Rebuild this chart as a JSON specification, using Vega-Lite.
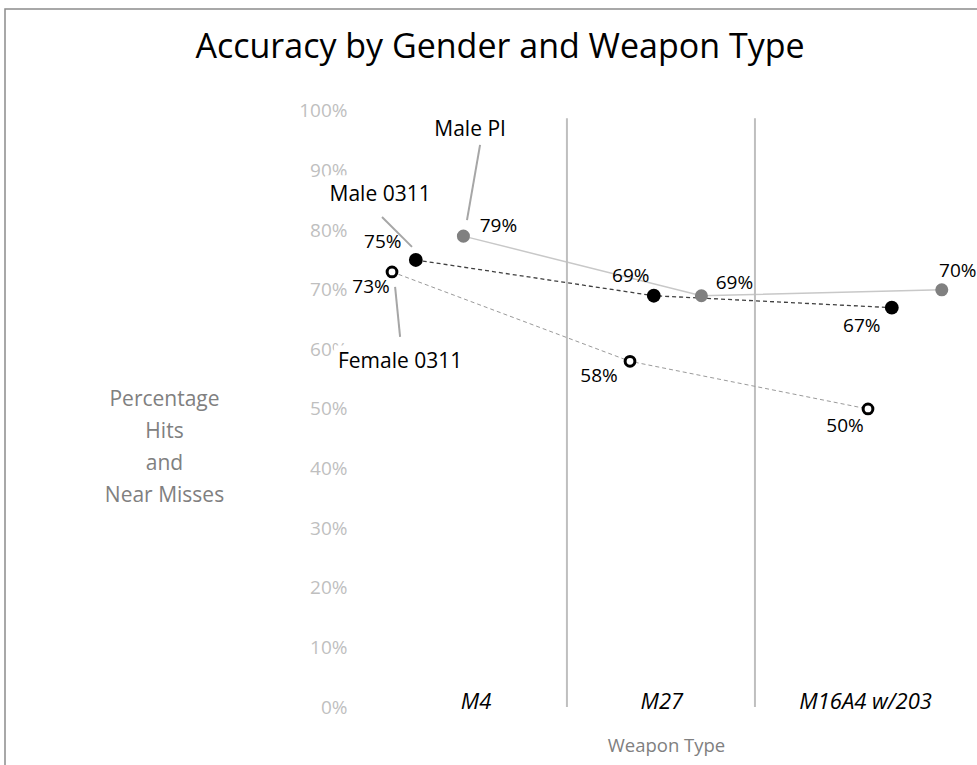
{
  "$schema": "https://vega.github.io/schema/vega-lite/v6.json",
  "width": 980,
  "height": 761,
  "autosize": {"type": "none"},
  "padding": {"left": 5, "top": 9, "right": 0, "bottom": 0},
  "background": "white",
  "config": {
    "view": {"stroke": "#8C8C8C", "strokeWidth": 1.5},
    "font": "Open Sans",
    "text": {"font": "Open Sans"}
  },
  "title": {
    "text": "Accuracy by Gender and Weapon Type",
    "font": "Open Sans",
    "fontSize": 34,
    "fontWeight": "normal",
    "color": "#000000",
    "anchor": "middle",
    "frame": "group",
    "baseline": "middle",
    "offset": -38,
    "dy": 35,
    "dx": 5
  },
  "datasets": {
    "points": [
      {"series": "Female 0311", "weapon": "M4", "x": 1.0, "y": 0.73},
      {"series": "Female 0311", "weapon": "M27", "x": 2.0, "y": 0.58},
      {"series": "Female 0311", "weapon": "M16A4 w/203", "x": 3.0, "y": 0.50},
      {"series": "Male 0311", "weapon": "M4", "x": 1.1, "y": 0.75},
      {"series": "Male 0311", "weapon": "M27", "x": 2.1, "y": 0.69},
      {"series": "Male 0311", "weapon": "M16A4 w/203", "x": 3.1, "y": 0.67},
      {"series": "Male PI", "weapon": "M4", "x": 1.3, "y": 0.79},
      {"series": "Male PI", "weapon": "M27", "x": 2.3, "y": 0.69},
      {"series": "Male PI", "weapon": "M16A4 w/203", "x": 3.31, "y": 0.70}
    ],
    "separators": [{"x": 1.735}, {"x": 2.525}],
    "weapons": [
      {"weapon": "M4", "x": 1.353},
      {"weapon": "M27", "x": 2.134},
      {"weapon": "M16A4 w/203", "x": 2.99}
    ],
    "seriesLabels": [
      {"label": "Male PI", "x": 1.328, "y": 0.968},
      {"label": "Male 0311", "x": 0.95, "y": 0.859},
      {"label": "Female 0311", "x": 1.034, "y": 0.579}
    ],
    "leaders": [
      {"label": "Male PI", "x": 1.37, "y": 0.943, "x2": 1.315, "y2": 0.817},
      {"label": "Male 0311", "x": 0.958, "y": 0.822, "x2": 1.084, "y2": 0.772},
      {"label": "Female 0311", "x": 1.013, "y": 0.705, "x2": 1.034, "y2": 0.621}
    ]
  },
  "encoding": {
    "x": {
      "field": "x",
      "type": "quantitative",
      "scale": {"domain": [-0.6261, 3.4916], "nice": false, "zero": false},
      "axis": {
        "title": "Weapon Type",
        "labels": false,
        "ticks": false,
        "domain": false,
        "grid": false,
        "offset": -25,
        "titleX": 661,
        "titleY": 0,
        "titleBaseline": "middle",
        "titleAlign": "center",
        "titleColor": "#808080",
        "titleFont": "Open Sans",
        "titleFontSize": 18.5,
        "titleFontWeight": "normal"
      }
    }
  },
  "layer": [
    {
      "data": {"name": "points"},
      "transform": [{"filter": "datum.series === 'Male PI'"}],
      "mark": {"type": "line", "color": "#C8C8C8", "strokeWidth": 1.5},
      "encoding": {
        "y": {
          "field": "y",
          "type": "quantitative",
          "scale": {"domain": [-0.1057, 1.1711], "nice": false, "zero": false},
          "axis": {
            "values": [0, 0.1, 0.2, 0.3, 0.4, 0.5, 0.6, 0.7, 0.8, 0.9, 1.0],
            "format": ".0%",
            "ticks": false,
            "domain": false,
            "grid": false,
            "offset": -344,
            "labelPadding": 2,
            "labelColor": "#BFBFBF",
            "labelFont": "Open Sans",
            "labelFontSize": 19,
            "title": ["Percentage", "Hits", "and", "Near Misses"],
            "titleAngle": 0,
            "titleAlign": "center",
            "titleBaseline": "middle",
            "titleLineHeight": 32,
            "titleX": -185,
            "titleY": 390,
            "titleColor": "#808080",
            "titleFont": "Open Sans",
            "titleFontSize": 21,
            "titleFontWeight": "normal"
          }
        }
      }
    },
    {
      "data": {"name": "separators"},
      "mark": {"type": "rule", "color": "#BFBFBF", "strokeWidth": 2},
      "encoding": {"y": {"datum": 0}, "y2": {"datum": 0.988}}
    },
    {
      "data": {"name": "weapons"},
      "mark": {"type": "text", "fontSize": 22, "fontStyle": "italic", "color": "#000000", "baseline": "middle", "align": "center"},
      "encoding": {"y": {"datum": 0.008}, "text": {"field": "weapon"}}
    },
    {
      "data": {"name": "points"},
      "transform": [{"filter": "datum.series === 'Female 0311'"}],
      "mark": {"type": "line", "color": "#9A9A9A", "strokeWidth": 1, "strokeDash": [4, 3]},
      "encoding": {"y": {"field": "y", "type": "quantitative"}}
    },
    {
      "data": {"name": "points"},
      "transform": [{"filter": "datum.series === 'Male 0311'"}],
      "mark": {"type": "line", "color": "#404040", "strokeWidth": 1.3, "strokeDash": [4, 3]},
      "encoding": {"y": {"field": "y", "type": "quantitative"}}
    },
    {
      "data": {"name": "points"},
      "transform": [{"filter": "datum.series === 'Male PI'"}],
      "mark": {"type": "point", "shape": "circle", "filled": true, "color": "#808080", "opacity": 1, "size": 170},
      "encoding": {"y": {"field": "y", "type": "quantitative"}}
    },
    {
      "data": {"name": "points"},
      "transform": [{"filter": "datum.series === 'Male 0311'"}],
      "mark": {"type": "point", "shape": "circle", "filled": true, "color": "#000000", "opacity": 1, "size": 190},
      "encoding": {"y": {"field": "y", "type": "quantitative"}}
    },
    {
      "data": {"name": "points"},
      "transform": [{"filter": "datum.series === 'Female 0311'"}],
      "mark": {"type": "point", "shape": "circle", "filled": true, "fill": "#FFFFFF", "stroke": "#000000", "strokeWidth": 3, "opacity": 1, "size": 95},
      "encoding": {"y": {"field": "y", "type": "quantitative"}}
    },
    {
      "data": {"name": "points"},
      "transform": [{"filter": "datum.series === 'Female 0311' && datum.weapon === 'M4'"}],
      "mark": {"type": "text", "fontSize": 19, "color": "#000000", "dx": -21, "dy": 15},
      "encoding": {"y": {"field": "y", "type": "quantitative"}, "text": {"field": "y", "format": ".0%"}}
    },
    {
      "data": {"name": "points"},
      "transform": [{"filter": "datum.series === 'Female 0311' && datum.weapon === 'M27'"}],
      "mark": {"type": "text", "fontSize": 19, "color": "#000000", "dx": -31, "dy": 15},
      "encoding": {"y": {"field": "y", "type": "quantitative"}, "text": {"field": "y", "format": ".0%"}}
    },
    {
      "data": {"name": "points"},
      "transform": [{"filter": "datum.series === 'Female 0311' && datum.weapon === 'M16A4 w/203'"}],
      "mark": {"type": "text", "fontSize": 19, "color": "#000000", "dx": -23, "dy": 17},
      "encoding": {"y": {"field": "y", "type": "quantitative"}, "text": {"field": "y", "format": ".0%"}}
    },
    {
      "data": {"name": "points"},
      "transform": [{"filter": "datum.series === 'Male 0311' && datum.weapon === 'M4'"}],
      "mark": {"type": "text", "fontSize": 19, "color": "#000000", "dx": -33, "dy": -18},
      "encoding": {"y": {"field": "y", "type": "quantitative"}, "text": {"field": "y", "format": ".0%"}}
    },
    {
      "data": {"name": "points"},
      "transform": [{"filter": "datum.series === 'Male 0311' && datum.weapon === 'M27'"}],
      "mark": {"type": "text", "fontSize": 19, "color": "#000000", "dx": -23, "dy": -20},
      "encoding": {"y": {"field": "y", "type": "quantitative"}, "text": {"field": "y", "format": ".0%"}}
    },
    {
      "data": {"name": "points"},
      "transform": [{"filter": "datum.series === 'Male 0311' && datum.weapon === 'M16A4 w/203'"}],
      "mark": {"type": "text", "fontSize": 19, "color": "#000000", "dx": -30, "dy": 18},
      "encoding": {"y": {"field": "y", "type": "quantitative"}, "text": {"field": "y", "format": ".0%"}}
    },
    {
      "data": {"name": "points"},
      "transform": [{"filter": "datum.series === 'Male PI' && datum.weapon === 'M4'"}],
      "mark": {"type": "text", "fontSize": 19, "color": "#000000", "dx": 35, "dy": -10},
      "encoding": {"y": {"field": "y", "type": "quantitative"}, "text": {"field": "y", "format": ".0%"}}
    },
    {
      "data": {"name": "points"},
      "transform": [{"filter": "datum.series === 'Male PI' && datum.weapon === 'M27'"}],
      "mark": {"type": "text", "fontSize": 19, "color": "#000000", "dx": 33, "dy": -13},
      "encoding": {"y": {"field": "y", "type": "quantitative"}, "text": {"field": "y", "format": ".0%"}}
    },
    {
      "data": {"name": "points"},
      "transform": [{"filter": "datum.series === 'Male PI' && datum.weapon === 'M16A4 w/203'"}],
      "mark": {"type": "text", "fontSize": 19, "color": "#000000", "dx": 16, "dy": -19},
      "encoding": {"y": {"field": "y", "type": "quantitative"}, "text": {"field": "y", "format": ".0%"}}
    },
    {
      "data": {"name": "leaders"},
      "mark": {"type": "rule", "color": "#A6A6A6", "strokeWidth": 2},
      "encoding": {"y": {"field": "y", "type": "quantitative"}, "x2": {"field": "x2"}, "y2": {"field": "y2"}}
    },
    {
      "data": {"name": "seriesLabels"},
      "transform": [{"filter": "datum.label === 'Male 0311'"}],
      "mark": {"type": "point", "shape": "M-1,-0.36H1V0.36H-1Z", "filled": true, "fill": "#FFFFFF", "strokeWidth": 0, "opacity": 1, "size": 12100},
      "encoding": {"y": {"field": "y", "type": "quantitative"}}
    },
    {
      "data": {"name": "seriesLabels"},
      "transform": [{"filter": "datum.label === 'Female 0311'"}],
      "mark": {"type": "point", "shape": "M-1,-0.25H1V0.25H-1Z", "filled": true, "fill": "#FFFFFF", "strokeWidth": 0, "opacity": 1, "size": 17424},
      "encoding": {"y": {"field": "y", "type": "quantitative"}}
    },
    {
      "data": {"name": "seriesLabels"},
      "mark": {"type": "text", "fontSize": 21, "color": "#000000", "align": "center", "baseline": "middle"},
      "encoding": {"y": {"field": "y", "type": "quantitative"}, "text": {"field": "label"}}
    }
  ]
}
